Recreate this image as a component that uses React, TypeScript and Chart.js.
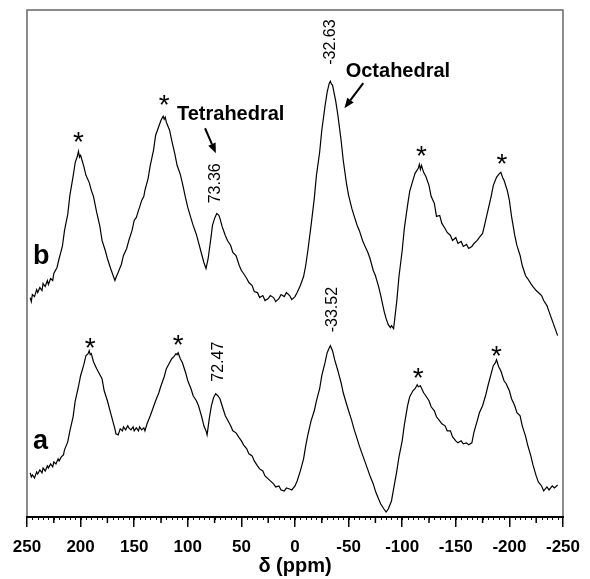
import React, { useEffect, useRef } from "react";
import { Chart, registerables } from "chart.js";

Chart.register(...registerables);

// trace b: chemical shift (ppm) and intensity (a.u.)
const shiftB: number[] = [247,246,245,243,241,240,238,236,235,233,231,230,228,226,225,222,220,217,215,212,210,207,205,203,202,201,200,197,195,192,190,188,185,182,180,177,175,172,170,168,167,165,162,160,157,155,152,150,148,146,145,143,141,140,137,135,132,130,127,125,123,122,121,120,117,115,112,110,107,105,102,100,97,95,92,90,87,85,83,81,80,78,77,75,73,71,70,68,65,63,60,58,55,52,50,48,45,43,40,38,35,33,30,28,25,23,20,18,15,13,10,8,5,3,0,-2,-5,-8,-10,-12,-15,-18,-20,-23,-25,-28,-30,-32,-33,-34,-35,-38,-40,-43,-45,-48,-50,-53,-55,-58,-60,-63,-65,-68,-70,-73,-75,-78,-80,-83,-85,-87,-89,-90,-92,-95,-97,-100,-102,-105,-107,-110,-112,-115,-116,-117,-118,-120,-122,-125,-127,-130,-132,-135,-137,-140,-142,-145,-147,-150,-152,-155,-157,-160,-162,-165,-167,-170,-172,-175,-177,-180,-183,-185,-188,-190,-192,-194,-195,-198,-200,-202,-205,-207,-210,-212,-215,-217,-220,-222,-225,-227,-230,-232,-235,-237,-240,-242,-245];
const intensityB: number[] = [219,215,222,220,227,224,229,226,233,230,236,232,238,236,243,249,258,270,286,302,321,340,354,360,365,359,361,350,341,334,326,320,304,290,276,266,258,248,242,236,239,244,252,261,268,276,286,296,299,306,309,316,320,326,338,351,366,381,390,396,400,397,399,394,386,376,362,351,342,333,318,309,298,291,282,274,262,254,248,258,266,282,291,298,303,301,298,290,281,276,271,264,261,251,246,243,238,234,231,225,224,219,221,216,218,221,219,215,218,222,220,224,221,217,220,224,231,240,251,266,291,318,341,364,386,410,424,433,435,432,431,415,401,376,356,333,321,308,301,291,286,276,271,264,258,246,241,230,221,206,198,192,189,191,188,216,240,266,288,311,325,336,343,348,352,347,351,344,340,331,320,313,300,301,293,288,284,281,276,279,273,275,270,272,268,270,273,276,279,283,292,306,320,331,339,342,344,338,336,326,316,300,281,271,261,251,241,238,233,230,226,224,221,216,211,205,196,190,181];

// trace a: chemical shift (ppm) and intensity (a.u.)
const shiftA: number[] = [247,246,245,243,241,240,238,236,235,233,231,230,228,226,225,223,221,220,218,216,215,212,210,207,205,202,200,197,195,193,192,191,190,188,185,183,180,178,175,172,170,168,167,165,163,161,160,158,156,155,153,151,150,148,146,145,143,141,140,138,135,132,130,127,125,122,120,118,115,113,111,110,109,107,105,102,100,97,95,92,90,87,85,83,82,80,78,76,74,72,70,68,65,63,60,58,55,52,50,48,45,43,40,38,35,33,30,28,25,23,20,18,15,13,10,8,5,3,0,-2,-5,-8,-10,-12,-15,-18,-20,-23,-25,-28,-30,-32,-33,-35,-37,-40,-43,-45,-48,-50,-53,-55,-58,-60,-63,-65,-68,-70,-73,-75,-78,-80,-83,-85,-87,-90,-92,-95,-97,-100,-102,-105,-107,-110,-112,-114,-115,-117,-120,-122,-125,-127,-130,-132,-135,-137,-140,-142,-145,-147,-150,-152,-155,-157,-160,-162,-165,-167,-170,-172,-175,-178,-180,-183,-185,-187,-188,-190,-192,-195,-197,-200,-202,-205,-207,-210,-212,-215,-217,-220,-222,-225,-227,-230,-232,-235,-237,-240,-242,-245];
const intensityA: number[] = [44,40,42,39,45,43,47,44,49,46,51,49,53,50,55,53,58,56,60,62,67,75,86,100,116,130,141,152,161,163,166,162,163,155,148,144,138,126,116,104,96,88,83,82,88,86,90,87,91,89,87,90,86,89,86,90,87,89,86,93,101,110,116,124,131,140,148,152,158,160,163,162,164,158,154,144,136,128,121,116,111,100,91,86,82,98,111,119,123,121,118,111,101,97,91,86,84,79,76,72,68,63,61,56,51,48,46,41,38,36,33,30,31,27,26,29,28,27,31,36,46,58,71,82,96,106,116,128,141,154,164,169,171,166,157,146,134,124,113,106,96,88,78,71,62,56,47,41,33,26,18,13,8,5,8,16,28,46,60,76,92,111,120,126,128,132,130,131,124,121,116,110,106,100,96,93,91,86,86,80,76,74,76,73,74,72,74,85,96,104,111,122,131,143,151,154,157,150,146,136,133,126,118,111,104,101,91,81,72,61,52,41,35,31,26,30,27,31,29,32];

const xTicks: number[] = [250, 200, 150, 100, 50, 0, -50, -100, -150, -200, -250];
const minorTicks: number[] = [225, 175, 125, 75, 25, -25, -75, -125, -175, -225];

// annotations placed in data coordinates: [ppm, intensity]
const asterisks: [number, number][] = [
  [202, 381], [122, 418], [-118, 367], [-193, 359],
  [191, 176], [109, 179], [-115, 146], [-188, 168],
];
const shiftLabels: [string, number, number][] = [
  ["73.36", 74.3, 333],
  ["-32.63", -33.2, 474],
  ["-33.52", -35, 207],
  ["72.47", 71, 155],
];
const siteLabels: [string, number, number][] = [
  ["Tetrahedral", 60, 396],
  ["Octahedral", -96, 439],
];
const arrows: [number, number, number, number][] = [
  [83.9, 388, 73.8, 363],
  [-63.7, 433, -46.1, 408],
];
const traceLabels: [string, number, number][] = [
  ["b", 244.5, 253],
  ["a", 244.5, 68],
];

const FONT = "'Liberation Sans', Arial, Helvetica, sans-serif";

const annotate = {
  id: "annotate",
  beforeDatasetsDraw(chart: any) {
    const { ctx, chartArea: ca } = chart;
    ctx.save();
    ctx.strokeStyle = "#666";
    ctx.lineWidth = 1.5;
    ctx.strokeRect(ca.left, ca.top, ca.right - ca.left, ca.bottom - ca.top);
    ctx.restore();
  },
  afterDraw(chart: any) {
    const { ctx, chartArea: ca } = chart;
    const xs = chart.scales.x;
    const ys = chart.scales.y;
    ctx.save();
    // bottom axis line
    ctx.strokeStyle = "#000";
    ctx.lineWidth = 2;
    ctx.beginPath();
    ctx.moveTo(ca.left - 1, ca.bottom);
    ctx.lineTo(ca.right + 1, ca.bottom);
    ctx.stroke();
    // tiny ticks every 5 ppm
    ctx.lineWidth = 1;
    for (let v = -245; v <= 245; v += 5) {
      const px = Math.round(xs.getPixelForValue(v)) + 0.5;
      ctx.beginPath();
      ctx.moveTo(px, ca.bottom);
      ctx.lineTo(px, ca.bottom + 3);
      ctx.stroke();
    }
    // minor ticks
    ctx.lineWidth = 1.5;
    minorTicks.forEach((v) => {
      const px = xs.getPixelForValue(v);
      ctx.beginPath();
      ctx.moveTo(px, ca.bottom);
      ctx.lineTo(px, ca.bottom + 6);
      ctx.stroke();
    });
    ctx.fillStyle = "#000";
    // asterisks
    ctx.font = `28px ${FONT}`;
    ctx.textAlign = "center";
    ctx.textBaseline = "alphabetic";
    asterisks.forEach(([p, i]) => {
      ctx.fillText("*", xs.getPixelForValue(p), ys.getPixelForValue(i) + 16);
    });
    // shift labels, rotated
    ctx.font = `16px ${FONT}`;
    ctx.textBaseline = "middle";
    shiftLabels.forEach(([t, p, i]) => {
      ctx.save();
      ctx.translate(xs.getPixelForValue(p), ys.getPixelForValue(i));
      ctx.rotate(-Math.PI / 2);
      ctx.fillText(t, 0, 0);
      ctx.restore();
    });
    // site labels
    ctx.font = `bold 20px ${FONT}`;
    ctx.textBaseline = "alphabetic";
    siteLabels.forEach(([t, p, i]) => {
      ctx.fillText(t, xs.getPixelForValue(p), ys.getPixelForValue(i));
    });
    // arrows
    arrows.forEach(([p1, i1, p2, i2]) => {
      const x1 = xs.getPixelForValue(p1), y1 = ys.getPixelForValue(i1);
      const x2 = xs.getPixelForValue(p2), y2 = ys.getPixelForValue(i2);
      const ang = Math.atan2(y2 - y1, x2 - x1);
      const hl = 10, hw = 4;
      const bx = x2 - hl * Math.cos(ang), by = y2 - hl * Math.sin(ang);
      ctx.lineWidth = 2;
      ctx.beginPath();
      ctx.moveTo(x1, y1);
      ctx.lineTo(bx, by);
      ctx.stroke();
      ctx.beginPath();
      ctx.moveTo(x2, y2);
      ctx.lineTo(bx + hw * Math.sin(ang), by - hw * Math.cos(ang));
      ctx.lineTo(bx - hw * Math.sin(ang), by + hw * Math.cos(ang));
      ctx.closePath();
      ctx.fill();
    });
    // trace labels
    ctx.font = `bold 27px ${FONT}`;
    ctx.textAlign = "left";
    traceLabels.forEach(([t, p, i]) => {
      ctx.fillText(t, xs.getPixelForValue(p), ys.getPixelForValue(i));
    });
    ctx.restore();
  },
};

export default function App() {
  const ref = useRef<HTMLCanvasElement>(null);
  useEffect(() => {
    if (!ref.current) return;
    const chart = new Chart(ref.current, {
      type: "line",
      data: {
        datasets: [
          {
            label: "b",
            data: shiftB.map((s, k) => ({ x: s, y: intensityB[k] })),
            borderColor: "#000",
            borderWidth: 1.2,
            pointRadius: 0,
            tension: 0,
          },
          {
            label: "a",
            data: shiftA.map((s, k) => ({ x: s, y: intensityA[k] })),
            borderColor: "#000",
            borderWidth: 1.2,
            pointRadius: 0,
            tension: 0,
          },
        ],
      },
      options: {
        animation: false,
        responsive: false,
        maintainAspectRatio: false,
        layout: { padding: { left: 27, right: 21, top: 10, bottom: 0 } },
        plugins: { legend: { display: false }, tooltip: { enabled: false } },
        scales: {
          x: {
            type: "linear",
            reverse: true,
            min: -250,
            max: 250,
            afterBuildTicks: (scale: any) => {
              scale.ticks = xTicks.map((v) => ({ value: v }));
            },
            afterFit: (scale: any) => {
              scale.height = 62;
            },
            ticks: {
              autoSkip: false,
              maxRotation: 0,
              color: "#000",
              padding: 10,
              font: { family: FONT, weight: "bold", size: 17 },
              callback: (v: any) => String(v),
            },
            grid: {
              display: true,
              drawOnChartArea: false,
              drawTicks: true,
              tickLength: 10,
              color: "#000",
              lineWidth: 1.5,
            },
            border: { display: false },
            title: {
              display: true,
              text: "δ (ppm)",
              color: "#000",
              font: { family: FONT, weight: "bold", size: 20 },
              padding: { top: 0, bottom: 1 },
            },
          },
          y: {
            display: false,
            min: 0,
            max: 506,
          },
        },
      },
      plugins: [annotate],
    });
    return () => chart.destroy();
  }, []);
  return (
    <div style={{ position: "fixed", left: 0, top: 0, width: 590, height: 579, background: "#fff" }}>
      <canvas ref={ref} width={590} height={579} style={{ display: "block" }} />
    </div>
  );
}
